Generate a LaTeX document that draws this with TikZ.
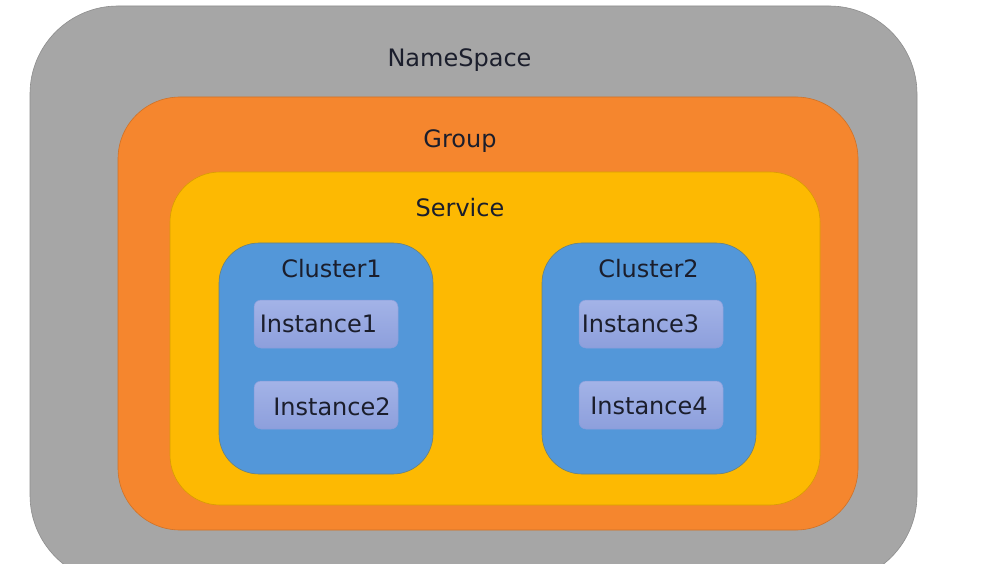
\documentclass[tikz,border=0pt]{standalone}
\usepackage{fontspec}
\setmainfont{DejaVu Sans}
\usepackage{xcolor}
\usetikzlibrary{positioning}
\definecolor{nsgray}{HTML}{A6A6A6}
\definecolor{grporange}{HTML}{F5862E}
\definecolor{svcyellow}{HTML}{FDB902}
\definecolor{clblue}{HTML}{5397D9}
\definecolor{insttop}{HTML}{A3B3E7}
\definecolor{instbot}{HTML}{8D9FDC}
\definecolor{txtdark}{HTML}{1B1E2C}

\begin{document}
\begin{tikzpicture}
  [x=1pt,y=-1pt,
   nsbox/.style={rectangle,inner sep=0pt,fill=nsgray,draw=nsgray!85!black,line width=0.6pt,rounded corners=88pt},
   grpbox/.style={rectangle,inner sep=0pt,fill=grporange,draw=grporange!85!black,line width=0.6pt,rounded corners=62pt},
   svcbox/.style={rectangle,inner sep=0pt,fill=svcyellow,draw=svcyellow!85!black,line width=0.6pt,rounded corners=50pt},
   clbox/.style={rectangle,inner sep=0pt,fill=clblue,draw=clblue!70!svcyellow!80!black,line width=0.6pt,rounded corners=40pt,
     minimum width=214pt,minimum height=231pt},
   instbox/.style={rectangle,inner sep=0pt,top color=insttop,bottom color=instbot,draw=instbot!90!clblue,line width=0.5pt,
     rounded corners=7pt,minimum width=144pt,minimum height=48pt},
   lbl/.style={inner sep=0pt,anchor=base,text=txtdark,font=\fontsize{24}{28}\selectfont}]

  \fill[white] (0,0) rectangle (991,572);
  \useasboundingbox (0,0) rectangle (991,572);

  % outer boxes
  \begin{scope}
    \clip (0,0) rectangle (991,563);
    \node[nsbox,minimum width=887pt,minimum height=577pt] (ns) at (473.5,294.5) {};
  \end{scope}
  \node[grpbox,minimum width=740pt,minimum height=433pt] (grp) at (488,313.5) {};
  \node[svcbox,minimum width=650pt,minimum height=333pt] (svc) at (495,338.5) {};

  % clusters and instances
  \node[clbox] (cl1) at (326,358.5) {};
  \node[clbox] (cl2) at (649,358.5) {};
  \node[instbox] (in1) at (326,324) {};
  \node[instbox] (in2) at (326,405) {};
  \node[instbox] (in3) at (651,324) {};
  \node[instbox] (in4) at (651,405) {};

  % labels
  \node[lbl] (ns-t) at (459.5,67) {NameSpace};
  \node[lbl] (grp-t) at (460,148) {Group};
  \node[lbl] (svc-t) at (460,217) {Service};
  \node[lbl] (cl1-t) at (331.5,278) {Cluster1};
  \node[lbl] (cl2-t) at (648.5,278) {Cluster2};
  \foreach \name/\x/\y/\txt in {in1/318.5/332/Instance1,in2/332/415/Instance2,in3/640.5/332/Instance3,in4/649/414/Instance4}
    \node[lbl] (\name-t) at (\x,\y) {\txt};

\end{tikzpicture}
\end{document}
